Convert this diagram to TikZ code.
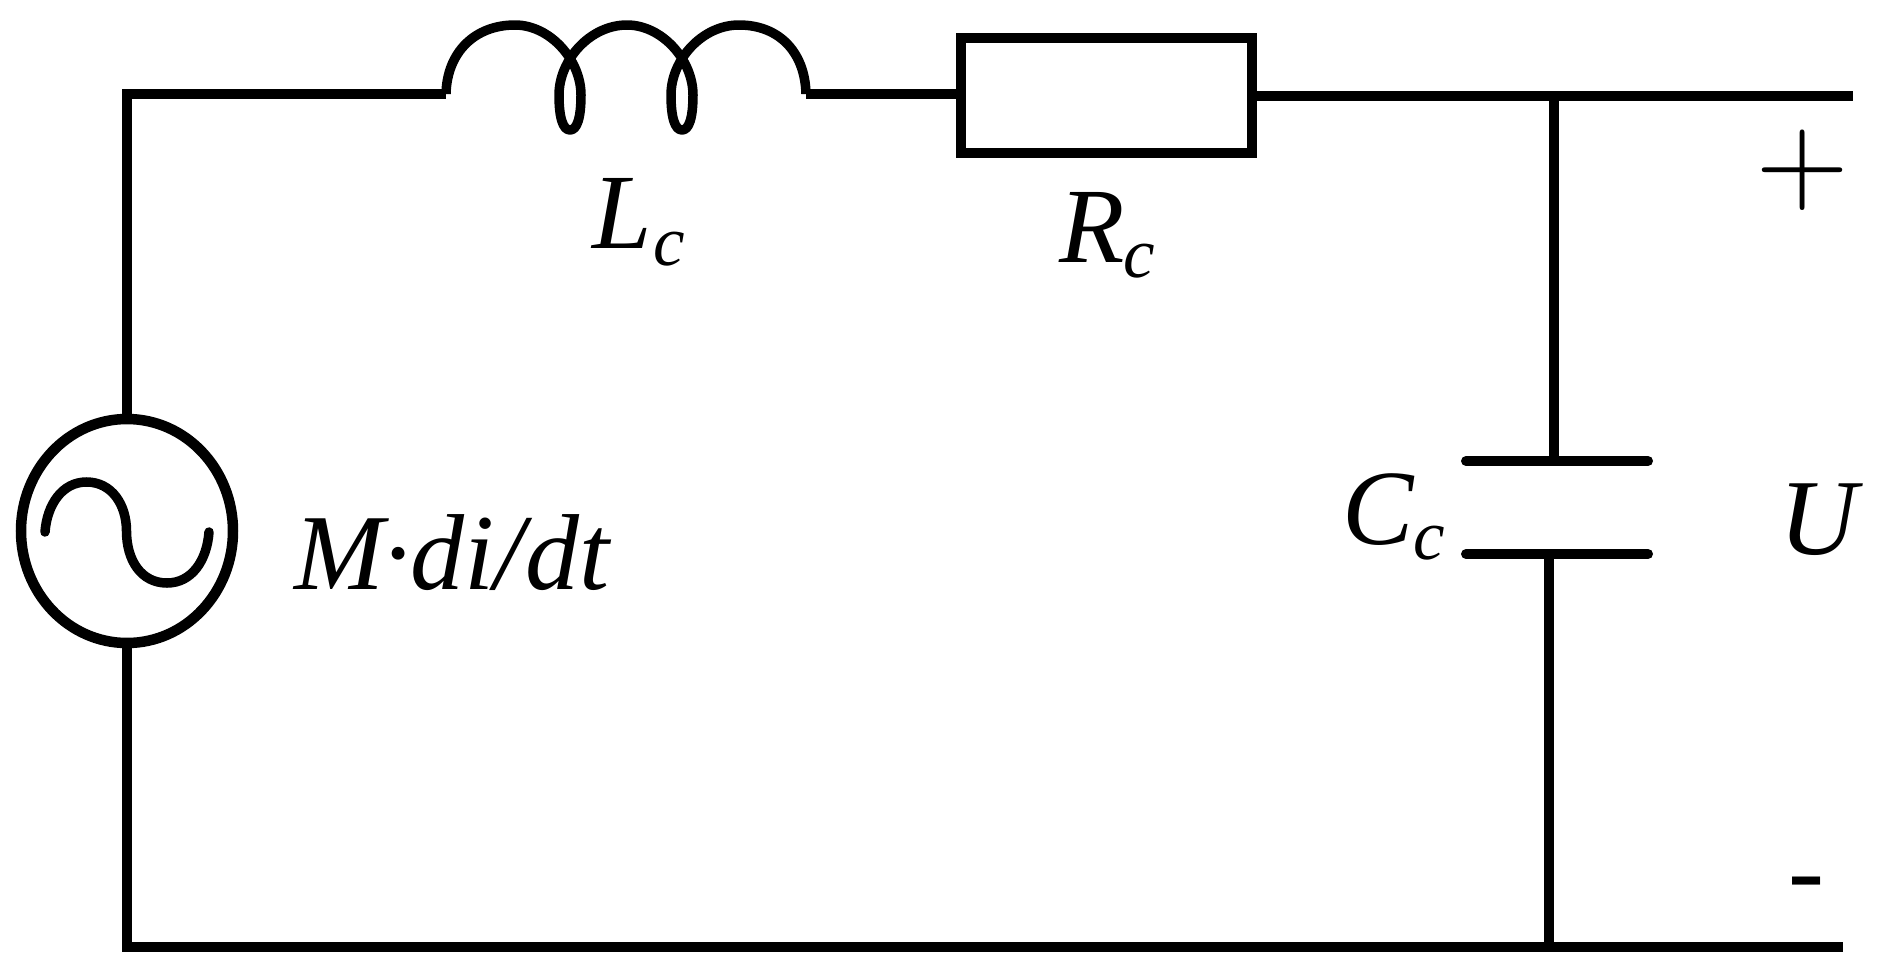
\documentclass[tikz,border=0pt]{standalone}
\usepackage{fontspec}
\usetikzlibrary{shapes.geometric}
\setmainfont{Liberation Serif}
\newcommand{\bigit}{\fontsize{107}{107}\selectfont\itshape}
\newcommand{\subc}[1]{\raisebox{#1}{\fontsize{71}{71}\selectfont\itshape c}}
\tikzset{
  wire/.style={line width=10pt,black},
  heavy/.style={line width=10.5pt,black},
  lbl/.style={inner sep=0pt,outer sep=0pt,anchor=base west,text=black},
}
\begin{document}
\begin{tikzpicture}[x=1pt,y=-1pt]
\useasboundingbox (0,0) rectangle (1880,964);
% components
\node[draw,line width=10.5pt,ellipse,minimum width=212pt,minimum height=224pt,inner sep=0pt,outer sep=0pt] (src) at (127,531) {};
\node[draw,line width=10pt,rectangle,minimum width=291pt,minimum height=114.5pt,inner sep=0pt,outer sep=0pt] (res) at (1106.5,95.5) {};
\coordinate (tl) at (127,94);
\coordinate (la) at (446,94);
\coordinate (lb) at (806,94);
\coordinate (rin) at (res.west);
\coordinate (jt) at (1554,96);
\coordinate (te) at (1853,96);
\coordinate (cpa) at (1554,461);
\coordinate (cpb) at (1549,554);
\coordinate (ca1) at (1466,461);
\coordinate (ca2) at (1648,461);
\coordinate (cb1) at (1466,554);
\coordinate (cb2) at (1648,554);
\coordinate (jb) at (1549,947);
\coordinate (bl) at (127,947);
\coordinate (be) at (1843,947);
% wires
\draw[wire,line join=miter] (src.north) -- (tl) -- (la);
\draw[wire] (lb) -- (rin |- lb);
\draw[wire] (res.east |- jt) -- (jt) -- (te);
\draw[wire] (jt) -- (cpa);
\draw[wire] (cpb) -- (jb);
\draw[heavy] (src.south) -- (bl) -- (be);
% inductor
\draw[wire,line width=9.5pt,line join=round] (la)
  .. controls (447,52) and (475,25) .. (515,25)
  .. controls (550,25) and (581,60) .. (581,95)
  .. controls (581,118) and (577,130) .. (570,130)
  .. controls (563,130) and (559,118) .. (559,95)
  .. controls (559,60) and (590,25) .. (627,25)
  .. controls (662,25) and (693,60) .. (693,95)
  .. controls (693,118) and (689,130) .. (682,130)
  .. controls (675,130) and (671,118) .. (671,95)
  .. controls (671,60) and (702,25) .. (739,25)
  .. controls (779,25) and (805,52) .. (lb);
% capacitor plates
\draw[wire,line cap=round] (ca1) -- (ca2);
\draw[wire,line cap=round] (cb1) -- (cb2);
% source sine
\draw[wire,line width=9.5pt,line cap=round] (45,532)
  .. controls (47,505) and (62,482) .. (86.5,482)
  .. controls (112,482) and (126.5,505) .. (126.5,531)
  .. controls (126.5,560) and (141,583) .. (167,583)
  .. controls (192,583) and (207,560) .. (209,532);
% labels
\node[lbl] (lL) at (592,248) {\bigit L\hspace{2pt}\subc{-17pt}};
\node[lbl] (lR) at (1059,262) {\bigit R\hspace{-1pt}\subc{-15pt}};
\node[lbl] (lM) at (294,589) {\fontsize{108}{108}\selectfont\itshape M·di/dt};
\node[lbl] (lC) at (1342,544) {\bigit C\hspace{0pt}\subc{-15pt}};
\node[lbl] (lU) at (1779,554) {\fontsize{108}{108}\selectfont\itshape U};
\node[inner sep=0pt,outer sep=0pt] (plus) at (1803,170) {\scalebox{12.1}{$+$}};
\node[lbl] (minus) at (1788,906) {\fontsize{108}{108}\selectfont -};
\end{tikzpicture}
\end{document}
